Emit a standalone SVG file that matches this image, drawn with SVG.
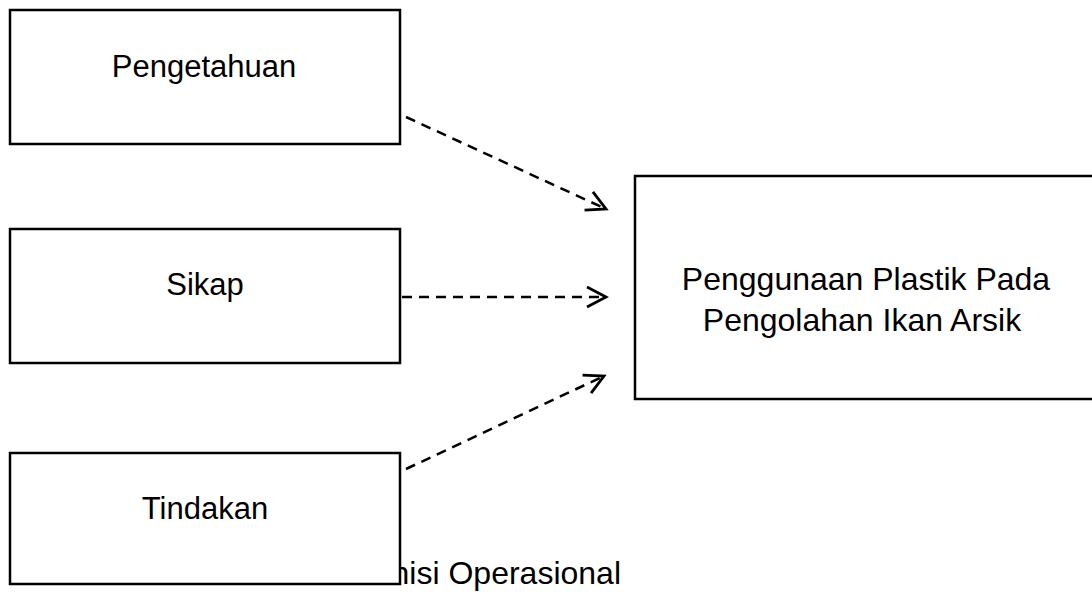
<svg xmlns="http://www.w3.org/2000/svg" width="1092" height="592" viewBox="0 0 1092 592">
  <style>
    .box { fill: #ffffff; stroke: #000000; stroke-width: 2.5; }
    .lbl { font-family: "Liberation Sans", Arial, sans-serif; font-size: 31px; fill: #000000; text-anchor: middle; }
    .lbl2 { font-family: "Liberation Sans", Arial, sans-serif; font-size: 32px; fill: #000000; text-anchor: middle; }
    .cap { font-family: "Liberation Sans", Arial, sans-serif; font-size: 32px; fill: #000000; text-anchor: end; }
    .conn { fill: none; stroke: #000000; stroke-width: 2.5; stroke-dasharray: 10 7; }
  </style>
  <defs>
    <marker id="chev" markerUnits="userSpaceOnUse" viewBox="-22 -13 26 26" refX="0" refY="0" markerWidth="26" markerHeight="26" orient="auto">
      <path d="M -19 -10 L 0 0 L -19 10" fill="none" stroke="#000000" stroke-width="2.8" stroke-linejoin="miter"/>
    </marker>
  </defs>
  <rect width="1092" height="592" fill="#ffffff"/>
  <text class="cap" x="621" y="584">nisi Operasional</text>
  <g id="connectors">
    <line class="conn" x1="406" y1="117" x2="606" y2="209" marker-end="url(#chev)"/>
    <line class="conn" x1="402" y1="297" x2="606" y2="297" marker-end="url(#chev)"/>
    <line class="conn" x1="406" y1="469" x2="604" y2="376" marker-end="url(#chev)"/>
  </g>
  <g id="pengetahuan">
    <rect class="box" x="10" y="10" width="390" height="134"/>
    <text class="lbl" x="204" y="77">Pengetahuan</text>
  </g>
  <g id="sikap">
    <rect class="box" x="10" y="229" width="390" height="134"/>
    <text class="lbl" x="205" y="295">Sikap</text>
  </g>
  <g id="tindakan">
    <rect class="box" x="10" y="453" width="390" height="131"/>
    <text class="lbl" x="205" y="519">Tindakan</text>
  </g>
  <g id="penggunaan">
    <rect class="box" x="635" y="176" width="470" height="223"/>
    <text class="lbl2" x="866" y="290">Penggunaan Plastik Pada</text>
    <text class="lbl2" x="862" y="331">Pengolahan Ikan Arsik</text>
  </g>
</svg>
